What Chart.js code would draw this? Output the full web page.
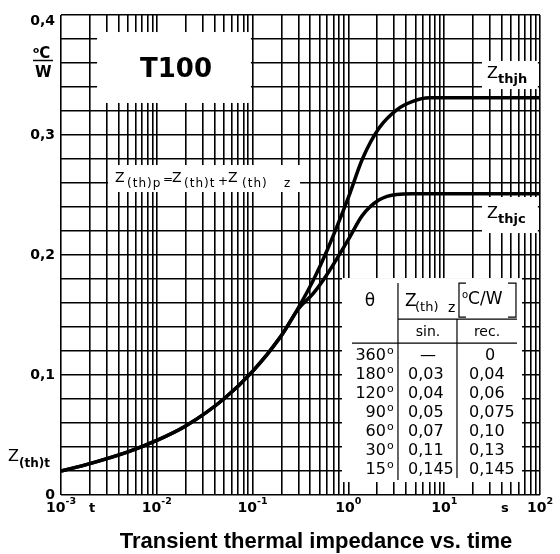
<!DOCTYPE html>
<html lang="en">
<head>
<meta charset="UTF-8">
<title>T100 transient thermal impedance</title>
<script src="https://cdn.jsdelivr.net/npm/chart.js@4"></script>
<style>
  html, body { margin: 0; background: #fff; }
  #chart { display: block; }
</style>
</head>
<body>
<canvas id="chart" width="560" height="554"></canvas>
<script>
// time (s) and the two curves (degC/W)
const times = [0.001, 0.002, 0.005, 0.01, 0.02, 0.05, 0.1, 0.2, 0.3, 0.43, 0.6, 1, 1.4, 2.1, 3.2, 4.7, 7, 10, 100];
const zthjh = [0.020, 0.0262, 0.036, 0.0455, 0.0575, 0.080, 0.103, 0.133, 0.156, 0.179, 0.204, 0.248, 0.280, 0.306, 0.321, 0.328, 0.331, 0.331, 0.331];
const zthjc = [0.020, 0.0262, 0.036, 0.0455, 0.0575, 0.080, 0.103, 0.133, 0.155, 0.168, 0.184, 0.213, 0.233, 0.246, 0.2505, 0.251, 0.251, 0.251, 0.251];

// axis labels
const xLabelVals = [0.001, 0.01, 0.1, 1, 10, 100];
const xLabelExps = ['-3', '-2', '-1', '0', '1', '2'];
const yLabelVals = [0, 0.1, 0.2, 0.3, 0.4];
const yLabelText = ['0', '0,1', '0,2', '0,3', '0,4'];

// conduction angle table: Z(th)z in degC/W
const angles = [360, 180, 120, 90, 60, 30, 15];
const zSin = ['—', '0,03', '0,04', '0,05', '0,07', '0,11', '0,145'];
const zRec = ['0', '0,04', '0,06', '0,075', '0,10', '0,13', '0,145'];

// grid: every 1..9 of each decade, and 0.02 steps on y
const gridX = [];
for (let e = -3; e < 2; e++) for (let m = 1; m < 10; m++) gridX.push(m * Math.pow(10, e));
gridX.push(100);
const gridY = [];
for (let i = 0; i <= 20; i++) gridY.push(i * 0.02);

const DJ = '"DejaVu Sans", sans-serif';

function rich(ctx, x, y, parts) {
  let cx = x;
  for (const [t, font, dy] of parts) {
    ctx.font = font;
    ctx.fillText(t, cx, y + (dy || 0));
    cx += ctx.measureText(t).width;
  }
  return cx;
}
function richWidth(ctx, parts) {
  let w = 0;
  for (const [t, font] of parts) { ctx.font = font; w += ctx.measureText(t).width; }
  return w;
}

const annotations = {
  id: 'annotations',
  beforeDatasetsDraw(chart) {
    const { ctx, scales: { x, y } } = chart;
    // white label panels that break the grid
    const panels = [
      [0.00238, 0.096, 0.3267, 0.3858],   // T100
      [0.0031, 0.313, 0.2525, 0.275],     // formula
      [0.857, 64.9, 0.0108, 0.1808],      // table
      [24.8, 95, 0.3383, 0.3617],         // Zthjh
      [24.8, 95, 0.2183, 0.2483]          // Zthjc
    ];
    ctx.save();
    ctx.fillStyle = '#fff';
    for (const [x0, x1, y0, y1] of panels) {
      const l = x.getPixelForValue(x0), r = x.getPixelForValue(x1);
      const t = y.getPixelForValue(y1), b = y.getPixelForValue(y0);
      ctx.fillRect(l, t, r - l, b - t);
    }
    ctx.restore();
  },
  afterDraw(chart) {
    const { ctx, scales: { x, y } } = chart;
    ctx.save();
    ctx.fillStyle = '#000';
    ctx.strokeStyle = '#000';

    // y tick labels
    ctx.font = 'bold 14px ' + DJ;
    ctx.textAlign = 'right';
    ctx.textBaseline = 'middle';
    yLabelVals.forEach((v, i) => ctx.fillText(yLabelText[i], 55, Math.max(y.getPixelForValue(v), 21)));

    // unit degC / W
    ctx.textAlign = 'left';
    ctx.textBaseline = 'alphabetic';
    rich(ctx, 33, 58, [['o', 'bold 9px ' + DJ, -5], ['C', 'bold 15px ' + DJ]]);
    ctx.lineWidth = 1.5;
    ctx.beginPath(); ctx.moveTo(33, 60.5); ctx.lineTo(53, 60.5); ctx.stroke();
    ctx.font = 'bold 15px ' + DJ;
    ctx.fillText('W', 35, 77);

    // x tick labels
    const xb = 512;
    xLabelVals.forEach((v, i) => {
      const parts = [['10', 'bold 14px ' + DJ], [xLabelExps[i], 'bold 9.5px ' + DJ, -8]];
      const w = richWidth(ctx, parts);
      rich(ctx, x.getPixelForValue(v) - w / 2, xb, parts);
    });
    ctx.font = 'bold 13px ' + DJ;
    ctx.fillText('t', 89, xb);
    ctx.fillText('s', 501, xb);

    // Z(th)t at left
    rich(ctx, 8, 461, [['Z', '16px ' + DJ], ['(th)t', 'bold 12px ' + DJ, 6]]);

    // title block
    ctx.textAlign = 'center';
    ctx.font = 'bold 26px ' + DJ;
    ctx.fillText('T100', 176, 77);
    ctx.font = 'bold 22px "Liberation Sans", Arial, sans-serif';
    ctx.fillText('Transient thermal impedance vs. time', 316, 548);
    ctx.textAlign = 'left';

    // curve labels
    rich(ctx, 487, 78, [['Z', '16px ' + DJ], ['thjh', 'bold 13px ' + DJ, 5]]);
    rich(ctx, 487, 218, [['Z', '16px ' + DJ], ['thjc', 'bold 13px ' + DJ, 5]]);

    // formula
    const f = 182, zf = '14px ' + DJ, sf = '12px ' + DJ;
    rich(ctx, 115, f, [['Z', zf]]);
    rich(ctx, 172, f, [['Z', zf]]);
    rich(ctx, 228, f, [['Z', zf]]);
    rich(ctx, 163, f, [['=', '12px ' + DJ, 1]]);
    rich(ctx, 218, f, [['+', '12px ' + DJ, 3]]);
    ctx.letterSpacing = '1px';
    rich(ctx, 127, f, [['(th)p', sf, 5]]);
    rich(ctx, 184, f, [['(th)t', sf, 5]]);
    rich(ctx, 242, f, [['(th)', sf, 5]]);
    rich(ctx, 284, f, [['z', sf, 5]]);
    ctx.letterSpacing = '0px';

    // table
    const L = x.getPixelForValue(0.857), T = y.getPixelForValue(0.1808);
    ctx.lineWidth = 1.2;
    const seg = (x0, y0, x1, y1) => { ctx.beginPath(); ctx.moveTo(L + x0, T + y0); ctx.lineTo(L + x1, T + y1); ctx.stroke(); };
    seg(56, 5, 56, 202);
    seg(115, 41, 115, 200);
    seg(56, 41, 175, 41);
    seg(10, 65, 175, 65);
    // unit brackets
    ctx.beginPath(); ctx.moveTo(L + 124, T + 5); ctx.lineTo(L + 117, T + 5); ctx.lineTo(L + 117, T + 39); ctx.lineTo(L + 124, T + 39); ctx.stroke();
    ctx.beginPath(); ctx.moveTo(L + 166, T + 5); ctx.lineTo(L + 174, T + 5); ctx.lineTo(L + 174, T + 39); ctx.lineTo(L + 166, T + 39); ctx.stroke();

    ctx.textBaseline = 'middle';
    ctx.textAlign = 'center';
    ctx.font = '17px ' + DJ;
    ctx.fillText('θ', L + 28, T + 24);
    ctx.font = '14px ' + DJ;
    ctx.fillText('sin.', L + 86, T + 54);
    ctx.fillText('rec.', L + 145, T + 54);
    ctx.textAlign = 'left';
    rich(ctx, L + 63, T + 24, [['Z', '17px ' + DJ]]);
    rich(ctx, L + 73, T + 24, [['(th)', '13px ' + DJ, 6]]);
    rich(ctx, L + 106, T + 24, [['z', '14px ' + DJ, 6]]);
    rich(ctx, L + 120, T + 22, [['o', '10px ' + DJ, -5], ['C/W', '17px ' + DJ]]);

    angles.forEach((a, i) => {
      const ry = T + 78 + i * 19;
      ctx.font = '16px ' + DJ;
      ctx.textAlign = 'right';
      ctx.fillText(String(a), L + 44, ry);
      ctx.textAlign = 'left';
      ctx.font = '11px ' + DJ;
      ctx.fillText('o', L + 45, ry - 5);
      ctx.font = '16px ' + DJ;
      if (zSin[i] === '—') { ctx.textAlign = 'center'; ctx.fillText(zSin[i], L + 86, ry); ctx.textAlign = 'left'; }
      else ctx.fillText(zSin[i], L + 66, ry);
      if (zRec[i] === '0') { ctx.textAlign = 'center'; ctx.fillText(zRec[i], L + 148, ry); ctx.textAlign = 'left'; }
      else ctx.fillText(zRec[i], L + 127, ry);
    });
    ctx.restore();
  }
};

const gridStyle = { color: '#000', lineWidth: 1.6, drawTicks: false };
new Chart(document.getElementById('chart'), {
  type: 'line',
  data: {
    datasets: [
      { label: 'Zthjh', data: times.map((t, i) => ({ x: t, y: zthjh[i] })) },
      { label: 'Zthjc', data: times.map((t, i) => ({ x: t, y: zthjc[i] })) }
    ]
  },
  options: {
    responsive: false,
    animation: false,
    layout: { padding: { left: 61, right: 20, top: 15, bottom: 59 } },
    elements: {
      line: { borderColor: '#000', borderWidth: 3.5, cubicInterpolationMode: 'monotone', fill: false },
      point: { radius: 0 }
    },
    plugins: { legend: { display: false }, tooltip: { enabled: false } },
    scales: {
      x: {
        type: 'logarithmic', min: 0.001, max: 100,
        afterBuildTicks: s => { s.ticks = gridX.map(v => ({ value: v })); },
        ticks: { display: false },
        grid: gridStyle,
        border: { display: false }
      },
      y: {
        type: 'linear', min: 0, max: 0.4,
        afterBuildTicks: s => { s.ticks = gridY.map(v => ({ value: v })); },
        ticks: { display: false },
        grid: gridStyle,
        border: { display: false }
      }
    }
  },
  plugins: [annotations]
});
</script>
</body>
</html>
